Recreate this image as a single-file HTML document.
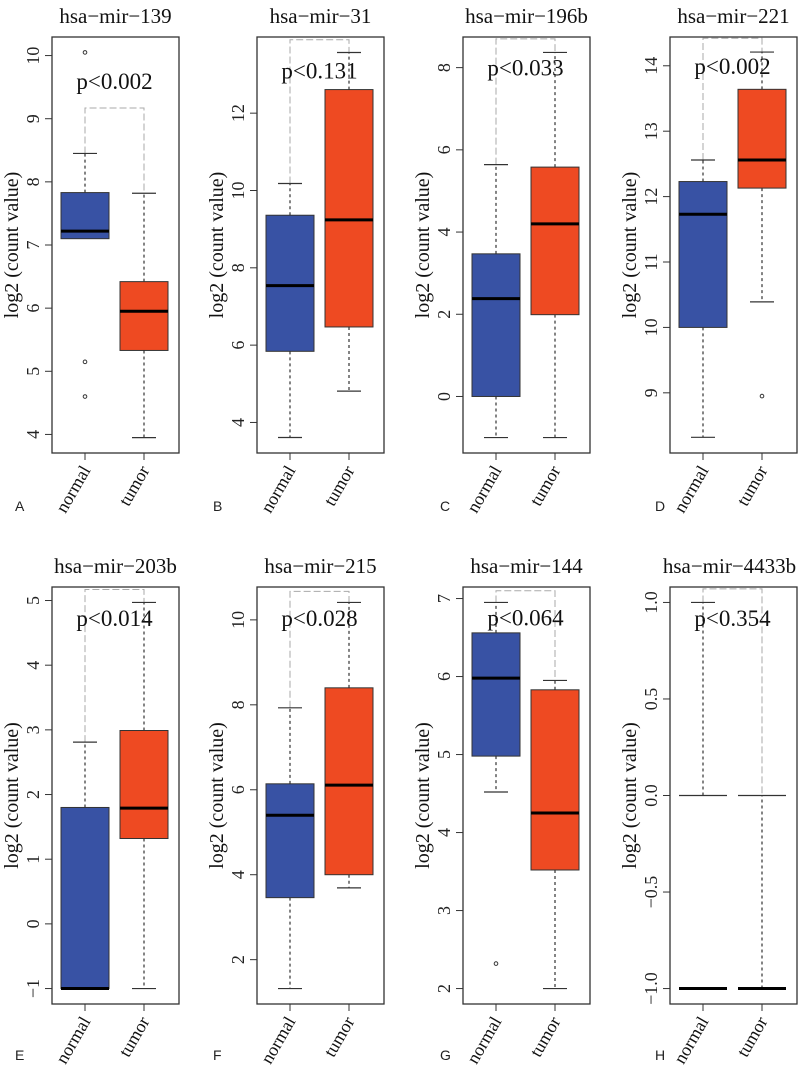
<!DOCTYPE html>
<html><head><meta charset="utf-8"><style>
html,body{margin:0;padding:0;background:#fff;}
svg{display:block;}
</style></head>
<body>
<svg id="fig" width="800" height="1071" viewBox="0 0 800 1071" xmlns="http://www.w3.org/2000/svg"></svg>
<script>
// ---- data ----
const titles = ["hsa\u2212mir\u2212139","hsa\u2212mir\u221231","hsa\u2212mir\u2212196b","hsa\u2212mir\u2212221","hsa\u2212mir\u2212203b","hsa\u2212mir\u2212215","hsa\u2212mir\u2212144","hsa\u2212mir\u22124433b"];
const panelLetters = ["A","B","C","D","E","F","G","H"];
const categories = ["normal","tumor"];
const pLabels = ["p<0.002","p<0.131","p<0.033","p<0.002","p<0.014","p<0.028","p<0.064","p<0.354"];
// [whiskerLow, Q1, median, Q3, whiskerHigh]
const normalStats = [
  [7.10,7.10,7.22,7.83,8.45],
  [3.61,5.84,7.54,9.36,10.18],
  [-1.0,0.0,2.38,3.47,5.64],
  [8.32,10.0,11.73,12.23,12.56],
  [-1.0,-1.0,-1.0,1.80,2.81],
  [1.32,3.46,5.40,6.14,7.93],
  [4.52,4.98,5.98,6.56,6.95],
  [-1.0,-1.0,-1.0,0.0,1.0]
];
const tumorStats = [
  [3.95,5.33,5.95,6.42,7.82],
  [4.81,6.47,9.24,12.61,13.57],
  [-1.0,1.99,4.20,5.58,8.37],
  [10.39,12.13,12.56,13.64,14.21],
  [-1.0,1.32,1.79,2.99,4.97],
  [3.69,4.00,6.11,8.40,10.41],
  [2.0,3.52,4.25,5.83,5.95],
  [-1.0,-1.0,-1.0,-1.0,0.0]
];
const normalOutliers = [[10.05,5.15,4.6],[],[],[],[],[],[2.32],[]];
const tumorOutliers = [[],[],[],[8.95],[],[],[],[]];
const bracketValues = [9.17,13.9,8.7,14.42,5.17,10.67,7.1,1.07];
const pTextValues = [9.6,13.1,8.0,14.0,4.73,10.04,6.76,0.92];
const yMin = [3.706,3.21,-1.375,8.08,-1.239,0.956,1.802,-1.08];
const yMax = [10.294,13.97,8.745,14.44,5.209,10.774,7.148,1.08];
const yTicks = [[4,5,6,7,8,9,10],[4,6,8,10,12],[0,2,4,6,8],[9,10,11,12,13,14],[-1,0,1,2,3,4,5],[2,4,6,8,10],[2,3,4,5,6,7],[-1,-0.5,0,0.5,1]];
const yTickLabels = [["4","5","6","7","8","9","10"],["4","6","8","10","12"],["0","2","4","6","8"],["9","10","11","12","13","14"],["\u22121","0","1","2","3","4","5"],["2","4","6","8","10"],["2","3","4","5","6","7"],["\u22121.0","\u22120.5","0.0","0.5","1.0"]];
const hollow = [false,false,false,false,false,false,false,true];

// ---- layout ----
const NS="http://www.w3.org/2000/svg";
const svg=document.getElementById("fig");
const colLeft=[52,257,463,670];
const rowTop=[37,587], rowBot=[453,1004];
const PW=127, BW=48, SERIF='"Liberation Serif", serif', SANS='"Liberation Sans", sans-serif';
const colors=["#3852a4","#ee4a22"];
function mk(tag,attrs,parent){const e=document.createElementNS(NS,tag);for(const k in attrs)e.setAttribute(k,attrs[k]);(parent||svg).appendChild(e);return e;}

for(let p=0;p<8;p++){
  const r=Math.floor(p/4), c=p%4;
  const L=colLeft[c], T=rowTop[r], B=rowBot[r], R=L+PW;
  const y=v=>B-(v-yMin[p])/(yMax[p]-yMin[p])*(B-T);
  const cx=[L+33,L+92];
  const g=mk("g",{});
  
  
  // title
  const t=mk("text",{x:(L+R)/2+(p===7?-4:0),y:T-14,"text-anchor":"middle","font-family":SERIF,"font-size":"21",fill:"#111"},g);
  t.textContent=titles[p];
  
  
  // y ticks
  yTicks[p].forEach((v,i)=>{
    const yy=y(v);
    const tk=mk("line",{x1:L-7,x2:L,y1:yy,y2:yy,stroke:"#333","stroke-width":"1"},g);
    
    
    const tl=mk("text",{x:0,y:0,transform:`translate(${L-13},${yy}) rotate(-90)`,"text-anchor":"middle","font-family":SERIF,"font-size":"18",fill:"#222"},g);
    tl.textContent=yTickLabels[p][i];
    
    
  });
  const yt=mk("text",{x:0,y:0,transform:`translate(${L-34},${(T+B)/2}) rotate(-90)`,"text-anchor":"middle","font-family":SERIF,"font-size":"20",fill:"#111"},g);
  yt.textContent="log2 (count value)";
  
  
  // x ticks / labels
  categories.forEach((cat,i)=>{
    const tk=mk("line",{x1:cx[i],x2:cx[i],y1:B,y2:B+7,stroke:"#333","stroke-width":"1"},g);
    
    
    const xl=mk("text",{x:0,y:0,transform:`translate(${cx[i]+6},${B+17}) rotate(-60)`,"text-anchor":"end","font-family":SERIF,"font-size":"18",fill:"#111"},g);
    xl.textContent=cat;
    
    
  });
  // panel letter
  const pl=mk("text",{x:[15,213,440,655][c],y:r?1060:511,"font-family":SANS,"font-size":"14",fill:"#222"},g);
  pl.textContent=panelLetters[p];
  
  
  // bracket
  const by=y(bracketValues[p]);
  const stats=[normalStats[p],tumorStats[p]];
  const br=mk("path",{d:`M${cx[0]},${y(stats[0][4])}V${by}H${cx[1]}V${y(stats[1][4])}`,fill:"none",stroke:"#aaa","stroke-width":"1","stroke-dasharray":"7,3"},g);
  
  
  // boxes
  const outs=[normalOutliers[p],tumorOutliers[p]];
  for(let i=0;i<2;i++){
    const s=stats[i], x=cx[i];
    const bg=mk("g",{},g);
    
    
    const capHalf=(hollow[p]&&i===1)?BW/2:BW/4;
    if(s[4]>s[3]){
      mk("line",{x1:x,x2:x,y1:y(s[3]),y2:y(s[4]),stroke:"#333","stroke-dasharray":"3,3","stroke-width":"1.2"},bg);
      mk("line",{x1:x-capHalf,x2:x+capHalf,y1:y(s[4]),y2:y(s[4]),stroke:"#333","stroke-width":"1.2"},bg);
    }
    if(s[0]<s[1]){
      mk("line",{x1:x,x2:x,y1:y(s[1]),y2:y(s[0]),stroke:"#333","stroke-dasharray":"3,3","stroke-width":"1.2"},bg);
      mk("line",{x1:x-BW/4,x2:x+BW/4,y1:y(s[0]),y2:y(s[0]),stroke:"#333","stroke-width":"1.2"},bg);
    }
    if(hollow[p]){
      mk("line",{x1:x-BW/2,x2:x+BW/2,y1:y(s[3]),y2:y(s[3]),stroke:"#333","stroke-width":"1.2"},bg);
    } else {
      mk("rect",{x:x-BW/2,y:y(s[3]),width:BW,height:Math.max(0,y(s[1])-y(s[3])),fill:colors[i],stroke:"#333","stroke-width":"1"},bg);
    }
    mk("line",{x1:x-BW/2,x2:x+BW/2,y1:y(s[2]),y2:y(s[2]),stroke:"#000","stroke-width":"3"},bg);
    outs[i].forEach(v=>{
      const o=mk("circle",{cx:x,cy:y(v),r:1.8,fill:"none",stroke:"#333","stroke-width":"1"},bg);
      
      
    });
  }
  // p-value text
  const pt=mk("text",{x:(cx[0]+cx[1])/2,y:y(pTextValues[p])+8,"text-anchor":"middle","font-family":SERIF,"font-size":"23",fill:"#111"},g);
  pt.textContent=pLabels[p];
  
  
  // frame
  const fr=mk("rect",{x:L,y:T,width:PW,height:B-T,fill:"none",stroke:"#333","stroke-width":"1.3"},g);
  
  
}
</script>
</body></html>
